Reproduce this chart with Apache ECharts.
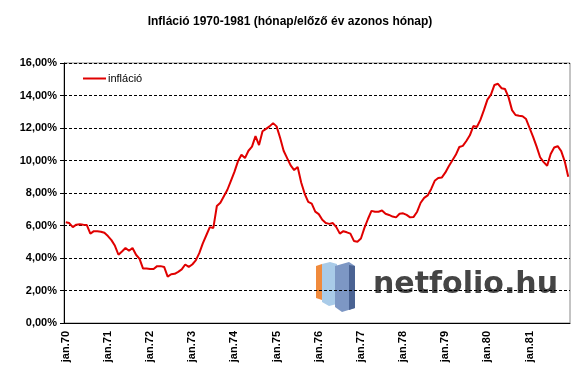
<!DOCTYPE html>
<html>
<head>
<meta charset="utf-8">
<script src="https://cdn.jsdelivr.net/npm/echarts@6/dist/echarts.min.js"></script>
<style>
  html, body { margin: 0; padding: 0; background: #fff; }
  #container { width: 580px; height: 376px; }
</style>
</head>
<body>
<div id="container"></div>
<script>
// évek és hónapok a kategória tengelyhez
var evek = ['70', '71', '72', '73', '74', '75', '76', '77', '78', '79', '80', '81'];
var honapok = ['jan.', 'febr.', 'márc.', 'ápr.', 'máj.', 'jún.', 'júl.', 'aug.', 'szept.', 'okt.', 'nov.', 'dec.'];
var yTicks = [0, 2, 4, 6, 8, 10, 12, 14, 16];

// infláció, hónap/előző év azonos hónap (%)
var inflacio = [
    6.2, 6.15, 5.9, 6.05, 6.08, 6.05, 6.03, 5.5, 5.65, 5.65, 5.62, 5.55,       // 1970
    5.35, 5.1, 4.75, 4.2, 4.4, 4.62, 4.45, 4.62, 4.2, 3.95, 3.35, 3.35,       // 1971
    3.32, 3.32, 3.5, 3.5, 3.45, 2.85, 3.0, 3.03, 3.15, 3.3, 3.6, 3.45,        // 1972
    3.6, 3.85, 4.3, 4.9, 5.4, 5.9, 5.85, 7.2, 7.4, 7.8, 8.2, 8.75,            // 1973
    9.3, 9.95, 10.35, 10.15, 10.6, 10.85, 11.5, 10.95, 11.8, 11.95, 12.1, 12.3, // 1974
    12.1, 11.4, 10.6, 10.15, 9.7, 9.41, 9.6, 8.65, 7.95, 7.45, 7.35, 6.85,    // 1975
    6.7, 6.35, 6.15, 6.1, 6.15, 5.9, 5.5, 5.65, 5.58, 5.5, 5.05, 5.0,         // 1976
    5.2, 5.85, 6.4, 6.9, 6.85, 6.85, 6.92, 6.72, 6.65, 6.55, 6.5, 6.72,       // 1977
    6.75, 6.65, 6.5, 6.53, 6.85, 7.4, 7.7, 7.85, 8.25, 8.75, 8.92, 8.95,      // 1978
    9.25, 9.65, 10.0, 10.35, 10.83, 10.9, 11.2, 11.55, 12.12, 12.06, 12.5, 13.1, // 1979
    13.75, 14.05, 14.65, 14.72, 14.45, 14.4, 13.9, 13.1, 12.8, 12.75, 12.72, 12.55, // 1980
    12.0, 11.45, 10.85, 10.2, 9.9, 9.68, 10.4, 10.8, 10.88, 10.58, 9.95, 9.0  // 1981
];

var kategoriak = [];
evek.forEach(function (ev) {
    honapok.forEach(function (h) {
        kategoriak.push(h + ev);
    });
});

var dom = document.getElementById('container');
var myChart = echarts.init(dom, null, { renderer: 'canvas' });
var betu = '"Liberation Sans", Arial, sans-serif';

var option = {
    animation: false,
    backgroundColor: '#ffffff',
    title: {
        text: 'Infláció 1970-1981 (hónap/előző év azonos hónap)',
        left: 'center',
        top: 11,
        textStyle: { fontFamily: betu, fontSize: 12, fontWeight: 'bold', color: '#000' }
    },
    legend: {
        left: 78,
        top: 68,
        itemWidth: 23,
        itemHeight: 12,
        itemGap: 4,
        icon: 'path://M0,5 L23,5 L23,7 L0,7 Z',
        data: ['infláció'],
        textStyle: { fontFamily: betu, fontSize: 11, color: '#000', padding: [0, 0, 0, -3] }
    },
    //rajzterület
    grid: {
        left: 64,
        right: 10,
        top: 63,
        bottom: 53,
        show: true,
        borderColor: '#888',
        borderWidth: 1
    },
    graphic: [
        // netfolio logó
        { type: 'polygon', z: 0, shape: { points: [[316, 266], [322, 264], [322, 300], [316, 298]] }, style: { fill: '#f08a3c' } },
        { type: 'polygon', z: 0, shape: { points: [[322, 264], [330, 262], [337, 264], [337, 304], [329, 306], [322, 302]] }, style: { fill: '#a9cbe8' } },
        { type: 'polygon', z: 0, shape: { points: [[335, 266], [349, 262], [355, 266], [355, 308], [342, 312], [335, 307]] }, style: { fill: '#7d97c4' } },
        { type: 'polygon', z: 0, shape: { points: [[349, 265], [355, 266], [355, 308], [349, 310]] }, style: { fill: '#4a6393' } },
        { type: 'text', z: 0, left: 373, top: 270, style: { text: 'netfolio.hu', font: 'bold 30px "DejaVu Sans", sans-serif', fill: '#454545' } }
    ],
    xAxis: [{
        type: 'category',
        data: kategoriak,
        boundaryGap: true,
        axisLine: { lineStyle: { color: '#000', width: 1 } },
        axisTick: { interval: 11, length: 4, lineStyle: { color: '#000' } },
        axisLabel: {
            interval: 11,
            rotate: 90,
            margin: 8,
            fontFamily: betu,
            fontSize: 11,
            fontWeight: 'bold',
            color: '#000'
        },
        splitLine: { show: false }
    }],
    yAxis: [{
        type: 'value',
        min: yTicks[0],
        max: yTicks[yTicks.length - 1],
        interval: 2,
        axisLine: { show: true, lineStyle: { color: '#000', width: 1 } },
        axisTick: { show: true, length: 4, lineStyle: { color: '#000' } },
        axisLabel: {
            margin: 7,
            fontFamily: betu,
            fontSize: 11,
            fontWeight: 'bold',
            color: '#000',
            formatter: function (v) {
                return v.toFixed(2).replace('.', ',') + '%';
            }
        },
        splitLine: {
            show: true,
            lineStyle: { type: [3, 2], color: '#000', width: 1 }
        }
    }],
    series: [{
        name: 'infláció',
        type: 'line',
        data: inflacio,
        showSymbol: false,
        symbol: 'none',
        z: 5,
        itemStyle: { color: '#e00000' },
        lineStyle: { color: '#e00000', width: 2 }
    }]
};

myChart.setOption(option, true);
</script>
</body>
</html>
